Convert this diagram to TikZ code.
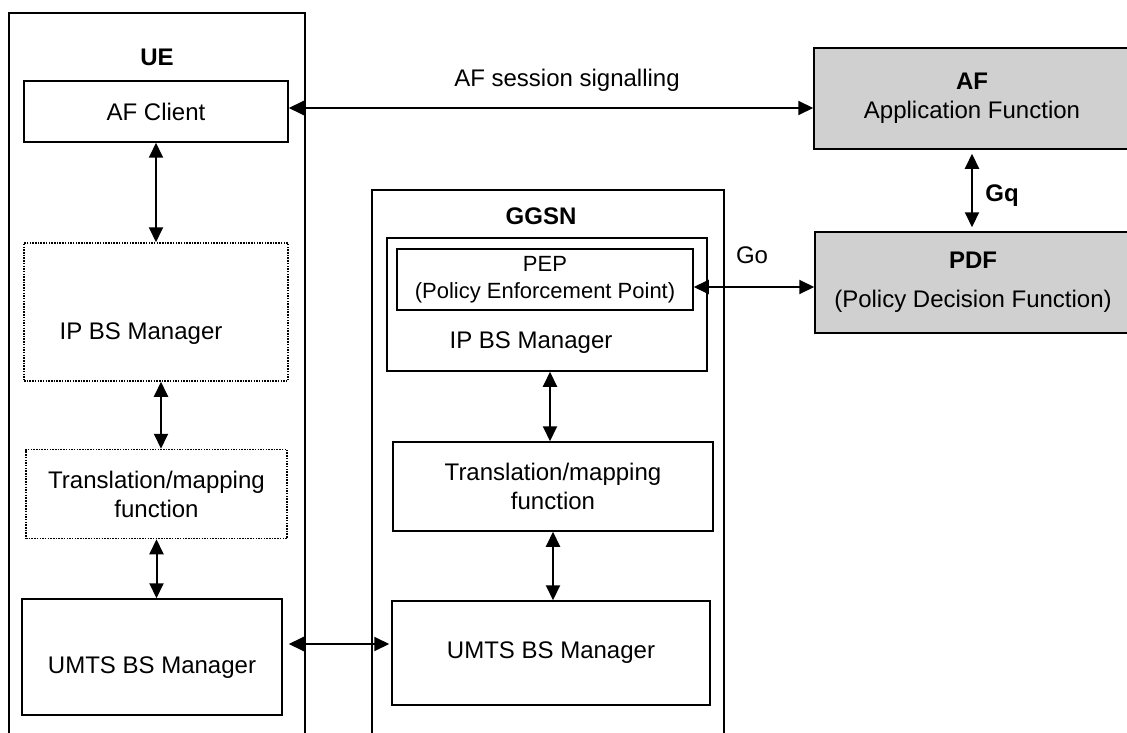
\documentclass[tikz,border=0pt]{standalone}
\usepackage{fontspec}
\setmainfont{Liberation Sans}
\usetikzlibrary{arrows.meta}

\definecolor{boxgrey}{RGB}{208,208,208}

\begin{document}
\begin{tikzpicture}[x=1pt,y=-1pt,
        every node/.style={font=\fontsize{24}{29}\selectfont},
        title/.style={font=\bfseries\fontsize{24}{29}\selectfont},
        box/.style={draw,rectangle,line width=1.5pt,inner sep=0pt},
        dotbox/.style={box,dash pattern=on 1.5pt off 1.2pt},
        greybox/.style={box,fill=boxgrey,align=center},
        link/.style={line width=2pt,{Triangle[length=15pt,width=14pt]}-{Triangle[length=15pt,width=14pt]}}]
        \useasboundingbox (0,0) rectangle (1127,733);
        % UE
        \node[box,minimum width=296pt,minimum height=732pt] (ue) at (157,379) {};
        \node[title] (uetitle) at (157,57) {UE};
        \node[box,minimum width=264pt,minimum height=61pt] (afc) at (156,111.5) {AF Client};
        \node[dotbox,minimum width=264pt,minimum height=138pt] (ipue) at (156,312) {};
        \node (ipuetxt) at (141,334) {IP BS Manager};
        \node[dotbox,minimum width=261pt,minimum height=89pt,align=center] (true) at (156.5,494) {Translation/mapping\\function};
        \node[box,minimum width=260pt,minimum height=116pt] (umue) at (152,657) {};
        \node (umuetxt) at (152,668) {UMTS BS Manager};
        % GGSN
        \node[box,minimum width=352pt,minimum height=555pt] (ggsn) at (548,467.5) {};
        \node[title] (ggsntitle) at (541,216) {GGSN};
        \node[box,minimum width=320pt,minimum height=133pt] (ipgg) at (547,304.5) {};
        \node[box,minimum width=296pt,minimum height=61pt,align=center,font=\fontsize{22}{27}\selectfont] (pep) at (545,279.5) {PEP\\(Policy Enforcement Point)};
        \node (ipggtxt) at (531,343) {IP BS Manager};
        \node[box,minimum width=320pt,minimum height=89pt,align=center] (trgg) at (553,486.5) {Translation/mapping\\function};
        \node[box,minimum width=318pt,minimum height=104pt] (umgg) at (551,653) {UMTS BS Manager};
        % AF and PDF
        \node[greybox,minimum width=316pt,minimum height=101pt] (af) at (972,98.5) {\textbf{AF}\\Application Function};
        \node[greybox,minimum width=316pt,minimum height=101pt] (pdf) at (973,282.5) {\textbf{PDF}\\[10pt](Policy Decision Function)};
        \node (sig) at (567,80) {AF session signalling};
        \node (go) at (752,255) {Go};
        \node[title] (gq) at (1002,196) {Gq};
        % links
        \draw[link] ([yshift=3.5pt]afc.east) -- ([yshift=3.5pt]afc.east -| af.west);
        \draw[link] (afc.south) -- (ipue.north);
        \draw[link] ([xshift=5pt]ipue.south) -- ([xshift=5pt]ipue.south |- true.north);
        \draw[link] (true.south) -- (true.south |- umue.north);
        \draw[link,shorten <=6pt,shorten >=2pt] ([yshift=13pt]umue.east) -- ([yshift=13pt]umue.east -| umgg.west);
        \draw[link] ([xshift=3pt]ipgg.south) -- ([xshift=3pt]ipgg.south |- trgg.north);
        \draw[link] (trgg.south) -- (trgg.south |- umgg.north);
        \draw[link] ([yshift=-7.5pt]pep.east) -- ([yshift=-7.5pt]pep.east -| pdf.west);
        \draw[link,shorten <=4pt,shorten >=4pt] (af.south) -- (af.south |- pdf.north);
\end{tikzpicture}
\end{document}
